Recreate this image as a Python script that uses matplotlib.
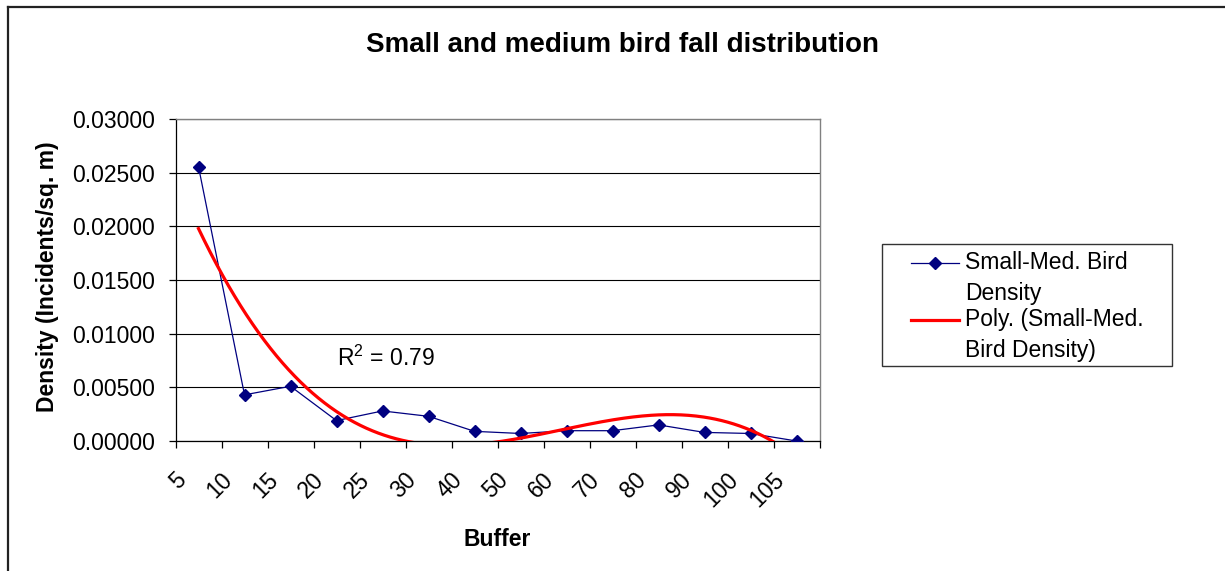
import numpy as np
import matplotlib
matplotlib.use("Agg")
import matplotlib.pyplot as plt
from matplotlib.lines import Line2D
from matplotlib.patches import Rectangle
from matplotlib.ticker import FixedLocator, FixedFormatter, NullFormatter
from matplotlib.transforms import ScaledTranslation

plt.rcParams['font.family'] = ['Liberation Sans', 'DejaVu Sans']
plt.rcParams['mathtext.fontset'] = 'custom'
plt.rcParams['mathtext.rm'] = 'Liberation Sans'
plt.rcParams['mathtext.it'] = 'Liberation Sans:italic'

# ---- data ----
buffer_labels = ['5', '10', '15', '20', '25', '30', '40', '50', '60', '70',
                 '80', '90', '100', '105']
density = [0.02555, 0.0043, 0.0051, 0.0019, 0.0028, 0.0023, 0.0009, 0.0007,
           0.00096, 0.00096, 0.0015, 0.0008, 0.0007, 0.0]
series_name = "Small-Med. Bird\nDensity"
trend_name = "Poly. (Small-Med.\nBird Density)"
r2_text = r"R$^{\mathregular{2}}$ = 0.79"
title = "Small and medium bird fall distribution"
y_ticks = [0.0, 0.005, 0.01, 0.015, 0.02, 0.025, 0.03]

W, H = 1225, 571
FS = 16.5
fig = plt.figure(figsize=(W / 100, H / 100), dpi=100)

def fx(px):
    return px / W

def fy(py):
    return 1 - py / H

ax = fig.add_axes([fx(175.5), fy(441), fx(819.5) - fx(175.5), fy(119) - fy(441)])

x = np.arange(1, len(density) + 1)

# polynomial (order 3) trendline, as Excel computes it
coef = np.polyfit(x, density, 3)
xs = np.linspace(1, len(density), 400)
ax.plot(xs, np.polyval(coef, xs), color='#FF0000', lw=2.3, zorder=4)

ax.plot(x, density, color='#000080', lw=0.9, marker='D', ms=6.2,
        markerfacecolor='#000080', markeredgecolor='#000080', zorder=3)

ax.set_xlim(0.5, len(density) + 0.5)
ax.set_ylim(0, 0.03)

# grid
ax.set_yticks(y_ticks)
ax.set_yticklabels([f"{v:.5f}" for v in y_ticks])
ax.yaxis.grid(True, color='black', lw=0.8)
ax.set_axisbelow(True)

# x ticks: major at category boundaries, labels on minor at centers
ax.xaxis.set_major_locator(FixedLocator(np.arange(0.5, len(density) + 1, 1.0)))
ax.xaxis.set_major_formatter(NullFormatter())
ax.xaxis.set_minor_locator(FixedLocator(x))
ax.xaxis.set_minor_formatter(FixedFormatter(buffer_labels))
ax.tick_params(axis='x', which='major', direction='out', length=5, width=0.9, color='black')
ax.tick_params(axis='x', which='minor', length=0, pad=0, labelsize=FS)
ax.tick_params(axis='y', direction='out', length=5, width=0.9, pad=10, labelsize=FS)

off = ScaledTranslation(-16 / 100, -35 / 100, fig.dpi_scale_trans)
for lab in ax.get_xticklabels(minor=True):
    lab.set_rotation(45)
    lab.set_rotation_mode('anchor')
    lab.set_ha('right')
    lab.set_va('center')
    lab.set_transform(lab.get_transform() + off)

for side in ['left', 'bottom']:
    ax.spines[side].set_color('black')
    ax.spines[side].set_linewidth(0.9)
for side in ['top', 'right']:
    ax.spines[side].set_color('#808080')
    ax.spines[side].set_linewidth(1.0)

ax.set_ylabel("Density (Incidents/sq. m)", fontsize=FS, fontweight='bold', va='center')
ax.yaxis.set_label_coords((48 - 175.5) / 644, (441 - 277) / 322)
ax.set_xlabel("Buffer", fontsize=FS, fontweight='bold', va='center')
ax.xaxis.set_label_coords((497 - 175.5) / 644, (441 - 540) / 322)

fig.suptitle(title, x=fx(622), y=fy(45), fontsize=20, fontweight='bold', va='center')

fig.text(fx(337), fy(366), r2_text, fontsize=FS, va='baseline', ha='left')

# outer chart frame (top and left edges visible)
fig.add_artist(Line2D([fx(8), fx(1225)], [fy(7), fy(7)], color='#222222', lw=1.6))
fig.add_artist(Line2D([fx(8), fx(8)], [fy(7), fy(571)], color='#222222', lw=1.6))

# legend box
fig.add_artist(Rectangle((fx(882), fy(366)), fx(1172) - fx(882), fy(244) - fy(366),
                         fill=False, edgecolor='#333333', lw=1.0))
fig.add_artist(Line2D([fx(911), fx(959)], [fy(263), fy(263)], color='#000080', lw=0.9))
fig.add_artist(Line2D([fx(935)], [fy(263)], color='#000080', marker='D', ms=6.2, lw=0))
fig.add_artist(Line2D([fx(911), fx(959)], [fy(320), fy(320)], color='#FF0000', lw=2.3))
# va='baseline' on multi-line text aligns the last line's baseline
fig.text(fx(965), fy(300), series_name, fontsize=FS, va='baseline', ha='left', linespacing=1.45)
fig.text(fx(965), fy(357), trend_name, fontsize=FS, va='baseline', ha='left', linespacing=1.45)

fig.savefig("out.png", dpi=100)
